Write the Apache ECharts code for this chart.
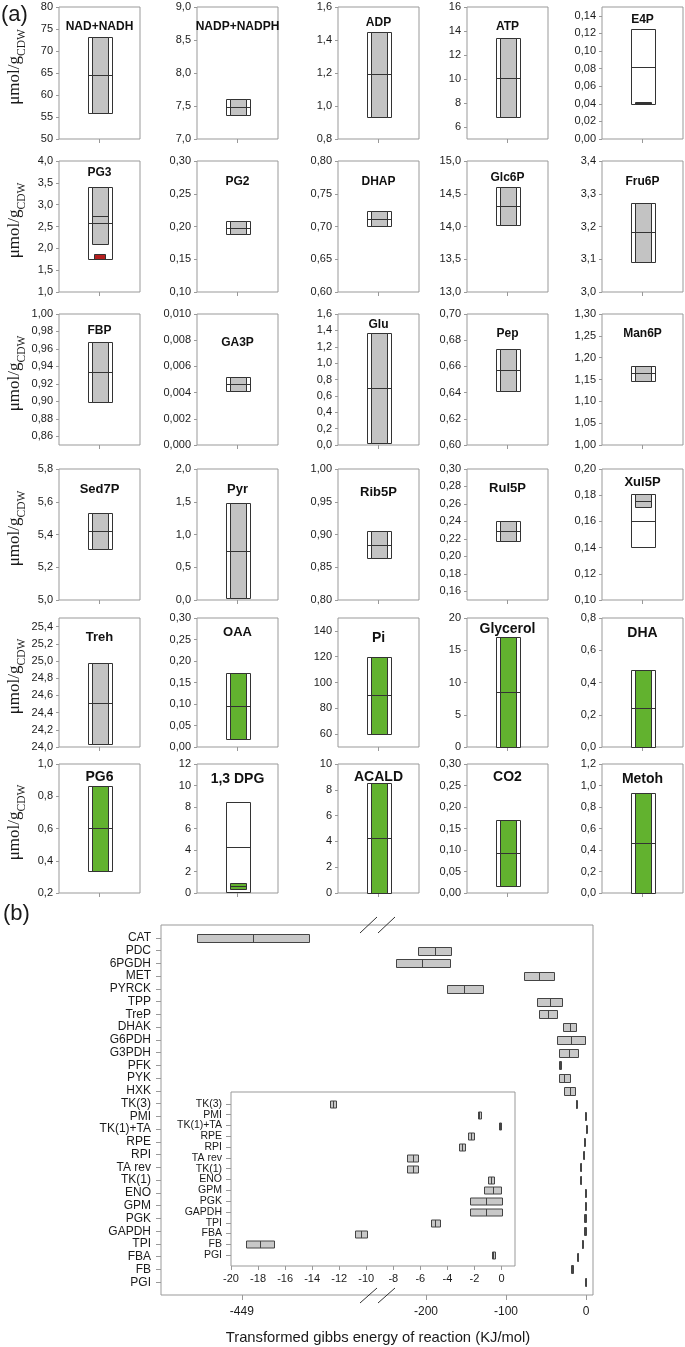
<!DOCTYPE html>
<html><head><meta charset="utf-8">
<script src="https://cdn.jsdelivr.net/npm/echarts@6/dist/echarts.min.js"></script>
<style>html,body{margin:0;padding:0;background:#fff}#c{width:685px;height:1347px}</style>
</head><body><div id="c"></div>
<script>
// ---------- (a) metabolite concentration ranges ----------
const metabolites = ['NAD+NADH','NADP+NADPH','ADP','ATP','E4P','PG3','PG2','DHAP','Glc6P','Fru6P',
  'FBP','GA3P','Glu','Pep','Man6P','Sed7P','Pyr','Rib5P','Rul5P','Xul5P',
  'Treh','OAA','Pi','Glycerol','DHA','PG6','1,3 DPG','ACALD','CO2','Metoh'];
const outerLow  = [55.8,7.36,0.935,6.8,0.040,1.75,0.188,0.701,14.03,3.093,0.899,0.00412,0.03,0.6415,1.147,5.31,0.03,0.8646,0.2177,0.1407,24.04,0.0186,60.2,0,0,0.336,0.1,0,0.017,0];
const outerHigh = [73.1,7.61,1.45,13.42,0.125,3.41,0.2084,0.7237,14.6,3.271,0.9675,0.00517,1.364,0.6733,1.182,5.53,1.476,0.905,0.2407,0.181,24.98,0.171,120,17.0,0.478,0.865,8.49,8.5,0.17,0.927];
const outerMid  = [64.5,7.49,1.194,10.1,0.0823,2.58,0.198,0.7115,14.32,3.182,0.9338,0.00466,0.693,0.6575,1.164,5.42,0.753,0.8845,0.2289,0.1605,24.51,0.0953,90.3,8.57,0.24,0.601,4.25,4.29,0.094,0.462];
const innerLow  = [55.8,7.36,0.935,6.8,0.0400,2.09,0.188,0.701,14.03,3.093,0.899,0.00412,0.03,0.6415,1.147,5.31,0.03,0.8646,0.2177,0.1708,24.04,0.0186,60.2,0,0,0.336,0.37,0,0.017,0];
const innerHigh = [73.1,7.61,1.45,13.42,0.0422,3.41,0.2084,0.7237,14.6,3.271,0.9675,0.00517,1.364,0.6733,1.182,5.53,1.476,0.905,0.2407,0.181,24.98,0.171,120,17.0,0.478,0.865,0.96,8.5,0.17,0.927];
const innerMid  = [64.5,7.49,1.194,10.1,0.0411,2.75,0.198,0.7115,14.32,3.182,0.9338,0.00466,0.693,0.6575,1.164,5.42,0.753,0.8845,0.2289,0.1756,24.51,0.0953,90.3,8.57,0.24,0.601,0.65,4.29,0.094,0.462];
const measured  = [true,true,true,true,true,true,true,true,true,true,true,true,true,true,true,true,true,true,true,true,true,false,false,false,false,false,false,false,false,false];
const extraLow  = [null,null,null,null,null,1.75,null,null,null,null,null,null,null,null,null,null,null,null,null,null,null,null,null,null,null,null,null,null,null,null];
const extraHigh = [null,null,null,null,null,1.86,null,null,null,null,null,null,null,null,null,null,null,null,null,null,null,null,null,null,null,null,null,null,null,null];
const yMin = [50,7.0,0.8,5,0,1.0,0.10,0.60,13.0,3.0,0.85,0,0,0.60,1.00,5.0,0,0.80,0.15,0.10,24.0,0,50,0,0,0.2,0,0,0,0];
const yMax = [80,9.0,1.6,16,0.15,4.0,0.30,0.80,15.0,3.4,1.00,0.010,1.6,0.70,1.30,5.8,2.0,1.00,0.30,0.20,25.5,0.30,150,20,0.8,1.0,12,10,0.30,1.2];
const yTicks = [
  [50,55,60,65,70,75,80],[7.0,7.5,8.0,8.5,9.0],[0.8,1.0,1.2,1.4,1.6],[6,8,10,12,14,16],[0,0.02,0.04,0.06,0.08,0.10,0.12,0.14],
  [1.0,1.5,2.0,2.5,3.0,3.5,4.0],[0.10,0.15,0.20,0.25,0.30],[0.60,0.65,0.70,0.75,0.80],[13.0,13.5,14.0,14.5,15.0],[3.0,3.1,3.2,3.3,3.4],
  [0.86,0.88,0.90,0.92,0.94,0.96,0.98,1.00],[0,0.002,0.004,0.006,0.008,0.010],[0,0.2,0.4,0.6,0.8,1.0,1.2,1.4,1.6],[0.60,0.62,0.64,0.66,0.68,0.70],[1.00,1.05,1.10,1.15,1.20,1.25,1.30],
  [5.0,5.2,5.4,5.6,5.8],[0,0.5,1.0,1.5,2.0],[0.80,0.85,0.90,0.95,1.00],[0.16,0.18,0.20,0.22,0.24,0.26,0.28,0.30],[0.10,0.12,0.14,0.16,0.18,0.20],
  [24.0,24.2,24.4,24.6,24.8,25.0,25.2,25.4],[0,0.05,0.10,0.15,0.20,0.25,0.30],[60,80,100,120,140],[0,5,10,15,20],[0,0.2,0.4,0.6,0.8],
  [0.2,0.4,0.6,0.8,1.0],[0,2,4,6,8,10,12],[0,2,4,6,8,10],[0,0.05,0.10,0.15,0.20,0.25,0.30],[0,0.2,0.4,0.6,0.8,1.0,1.2]
];
const tickDecimals = [0,1,1,0,2,1,2,2,1,1,2,3,1,2,2,1,1,2,2,2,1,2,0,0,1,1,0,0,2,1];

// ---------- (b) Gibbs energy of reaction ranges ----------
const reactions = ['CAT','PDC','6PGDH','MET','PYRCK','TPP','TreP','DHAK','G6PDH','G3PDH','PFK','PYK','HXK',
  'TK(3)','PMI','TK(1)+TA','RPE','RPI','TA rev','TK(1)','ENO','GPM','PGK','GAPDH','TPI','FBA','FB','PGI'];
const dgLow  = [-505,-209.6,-237.9,-77.9,-174.1,-60.8,-58.75,-28.3,-35.8,-33.3,-33.3,-33.75,-27.1,
  -12.67,-1.77,-0.18,-2.46,-3.13,-6.97,-6.97,-0.96,-1.28,-2.34,-2.34,-5.22,-10.8,-18.92,-0.72];
const dgMid  = [-434.5,-188.7,-204.6,-58.75,-152.1,-45.4,-47.9,-20,-18.3,-21.25,-31.9,-27.1,-20,
  -12.46,-1.65,-0.09,-2.24,-2.92,-6.57,-6.57,-0.74,-0.66,-1.18,-1.18,-4.9,-10.36,-17.89,-0.6];
const dgHigh = [-364.5,-167.9,-170,-40,-129.6,-30,-36.7,-11.7,-0.4,-9.2,-30.4,-20,-12.9,
  -12.25,-1.53,0,-2.02,-2.71,-6.15,-6.15,-0.52,0,0,0,-4.55,-9.94,-16.86,-0.47];
const insetFirst = 'TK(3)';
const mainLeftTicks = [-449];
const mainRightTicks = [-200,-100,0];
const insetTicks = [-20,-18,-16,-14,-12,-10,-8,-6,-4,-2,0];

// ---------- layout / style ----------
const colLeft = [59,197,338,467,602];
const rowTop = [7,161,314,469,618,764];
const rowH = [132,131,131,131,129,129];
const panelW = 81;
const titleDy = [20,20,16,20,13, 12,21,21,17,21, 17,29,11,20,20, 20,20,23,19,13, 19,14,20,11,15, 13,15,13,13,15];
const titleSize = [12,12,12,12,12, 12,12,12,12,12, 12,12,12,12,12, 13,13,13,13,13, 13,13,14,14,14, 14,14,14,14,14];
const GRAY='#c3c3c3', GREEN='#62b22f', RED='#b41e1e', EDGE='#333', FRAME='#999', TEXT='#1a1a1a';
const SANS='"Liberation Sans", Arial, sans-serif';
const SERIF='"Liberation Serif", "Times New Roman", serif';

const grids=[], xAxes=[], yAxes=[], series=[], graphics=[];
const NOLINE = {show:false, onZero:false};

function renderPanel(params, api){
  const x = api.value(0);
  const P = v => api.coord([x, v]);
  const cx = Math.round(P(api.value(1))[0]);
  const py = v => Math.round(P(v)[1]) + 0.5;
  const ow = 24, iw = 16;
  const o0 = py(api.value(1)), o1 = py(api.value(2)), om = py(api.value(3));
  const i0 = py(api.value(4)), i1 = py(api.value(5)), im = py(api.value(6));
  const fill = api.value(7) === 1 ? GRAY : GREEN;
  const L = cx - ow/2 + 0.5, IL = cx - iw/2 + 0.5;
  return {type:'group', children:[
    {type:'rect', shape:{x:L, y:o1, width:ow, height:o0-o1}, style:{fill:'#fff', stroke:EDGE, lineWidth:1}},
    {type:'rect', shape:{x:IL, y:i1, width:iw, height:Math.max(i0-i1,1)}, style:{fill:fill, stroke:EDGE, lineWidth:1}},
    {type:'line', shape:{x1:L, y1:om, x2:L+ow, y2:om}, style:{stroke:EDGE, lineWidth:1}},
    {type:'line', shape:{x1:IL, y1:im, x2:IL+iw, y2:im}, style:{stroke:EDGE, lineWidth:1}}
  ]};
}
function renderExtra(params, api){
  const x = api.value(0);
  const a = api.coord([x, api.value(1)]), b = api.coord([x, api.value(2)]);
  const w = 11;
  return {type:'rect', shape:{x:Math.round(a[0]-w/2)+0.5, y:Math.round(b[1])+0.5, width:w, height:Math.round(a[1]-b[1])},
    style:{fill:RED, stroke:EDGE, lineWidth:1}};
}

metabolites.forEach((name,i)=>{
  const r = Math.floor(i/5), c = i%5;
  grids.push({left:colLeft[c], top:rowTop[r], width:panelW, height:rowH[r], show:true, borderColor:FRAME, borderWidth:1, backgroundColor:'#fff', outerBoundsMode:'none', containLabel:false});
  xAxes.push({gridIndex:i, type:'value', min:0, max:1, position:'bottom', axisLine:NOLINE, splitLine:{show:false}, axisLabel:{show:false},
    axisTick:{show:true, customValues:[0.5], length:4, lineStyle:{color:FRAME}}});
  const dec = tickDecimals[i];
  yAxes.push({gridIndex:i, type:'value', min:yMin[i], max:yMax[i], position:'left', axisLine:NOLINE, splitLine:{show:false},
    axisTick:{show:true, customValues:yTicks[i], length:3, lineStyle:{color:FRAME}},
    axisLabel:{show:true, customValues:yTicks[i], formatter:v=>Number(v).toFixed(dec).replace('.',','), fontSize:11, color:TEXT, margin:6, fontFamily:SANS}});
  series.push({type:'custom', xAxisIndex:i, yAxisIndex:i, renderItem:renderPanel, silent:true,
    data:[[0.5, outerLow[i], outerHigh[i], outerMid[i], innerLow[i], innerHigh[i], innerMid[i], measured[i]?1:0]]});
  if (extraLow[i] != null) {
    series.push({type:'custom', xAxisIndex:i, yAxisIndex:i, renderItem:renderExtra, silent:true, z:3,
      data:[[0.5, extraLow[i], extraHigh[i]]]});
  }
  graphics.push({type:'text', z:100, x:colLeft[c]+panelW/2, y:rowTop[r]+titleDy[i],
    style:{text:name, align:'center', verticalAlign:'middle', font:'bold '+titleSize[i]+'px '+SANS, fill:'#111'}});
});

rowTop.forEach((t,r)=>{
  graphics.push({type:'text', z:100, x:17, y:t+rowH[r]/2-6, rotation:Math.PI/2,
    style:{text:'{a|μmol/g}{b|CDW}', align:'center', verticalAlign:'middle',
      rich:{a:{fontFamily:SERIF, fontSize:17, fill:TEXT, verticalAlign:'bottom', padding:[0,0,4,0]},
            b:{fontFamily:SERIF, fontSize:11.5, fill:TEXT, verticalAlign:'bottom'}}}});
});

graphics.push({type:'text', z:100, x:1, y:15, style:{text:'(a)', align:'left', verticalAlign:'middle', font:'22px '+SANS, fill:TEXT}});
graphics.push({type:'text', z:100, x:3, y:914, style:{text:'(b)', align:'left', verticalAlign:'middle', font:'22px '+SANS, fill:TEXT}});

// ----- (b) -----
function renderRange(h){
  return function(params, api){
    const y = api.value(3);
    const a = api.coord([api.value(0), y]);
    const m = api.coord([api.value(1), y]);
    const b = api.coord([api.value(2), y]);
    const yc = Math.round(a[1]);
    const x0 = Math.round(a[0]) + 0.5;
    const w = Math.max(Math.round(b[0]-a[0]), 1);
    const xm = Math.round(m[0]) + 0.5;
    return {type:'group', children:[
      {type:'rect', shape:{x:x0, y:yc-h/2+0.5, width:w, height:h}, style:{fill:'#c8c8c8', stroke:'#444', lineWidth:1}},
      {type:'line', shape:{x1:xm, y1:yc-h/2+0.5, x2:xm, y2:yc+h/2+0.5}, style:{stroke:'#444', lineWidth:1}}
    ]};
  };
}

const idx = reactions.map((_,k)=>k);
const gF = grids.length;
grids.push({left:161, top:925, width:432, height:370, show:true, borderColor:FRAME, borderWidth:1, backgroundColor:'transparent', outerBoundsMode:'none'});
xAxes.push({gridIndex:gF, type:'value', show:false, min:0, max:1, axisLine:NOLINE});
yAxes.push({gridIndex:gF, type:'value', inverse:true, position:'left', min:-1, max:reactions.length, axisLine:NOLINE, splitLine:{show:false},
  axisTick:{show:true, customValues:idx, length:5, lineStyle:{color:FRAME}},
  axisLabel:{show:true, customValues:idx, formatter:v=>reactions[Math.round(v)], fontSize:12, color:TEXT, margin:10, fontFamily:SANS}});

const LEFT_MAX = -278.75;
const gL = grids.length;
grids.push({left:161, top:925, width:217, height:370, show:false, outerBoundsMode:'none'});
xAxes.push({gridIndex:gL, type:'value', position:'bottom', min:-550, max:LEFT_MAX, axisLine:NOLINE, splitLine:{show:false},
  axisTick:{show:true, customValues:mainLeftTicks, length:5, lineStyle:{color:FRAME}},
  axisLabel:{show:true, customValues:mainLeftTicks, fontSize:12, color:TEXT, margin:11, fontFamily:SANS}});
yAxes.push({gridIndex:gL, type:'value', show:false, inverse:true, min:-1, max:reactions.length, axisLine:NOLINE});

const gR = grids.length;
grids.push({left:378, top:925, width:215, height:370, show:false, outerBoundsMode:'none'});
xAxes.push({gridIndex:gR, type:'value', position:'bottom', min:-260, max:8.75, axisLine:NOLINE, splitLine:{show:false},
  axisTick:{show:true, customValues:mainRightTicks, length:5, lineStyle:{color:FRAME}},
  axisLabel:{show:true, customValues:mainRightTicks, fontSize:12, color:TEXT, margin:11, fontFamily:SANS}});
yAxes.push({gridIndex:gR, type:'value', show:false, inverse:true, min:-1, max:reactions.length, axisLine:NOLINE});

const leftData=[], rightData=[];
reactions.forEach((n,k)=>{
  const item=[dgLow[k], dgMid[k], dgHigh[k], k];
  (dgHigh[k] < LEFT_MAX ? leftData : rightData).push(item);
});
series.push({type:'custom', xAxisIndex:gL, yAxisIndex:gL, renderItem:renderRange(8), data:leftData, silent:true});
series.push({type:'custom', xAxisIndex:gR, yAxisIndex:gR, renderItem:renderRange(8), data:rightData, silent:true});

// inset
const start = reactions.indexOf(insetFirst);
const insetNames = reactions.slice(start);
const insetIdx = insetNames.map((_,k)=>k);
const gI = grids.length;
grids.push({left:231, top:1092, width:284, height:174, show:true, borderColor:FRAME, borderWidth:1, backgroundColor:'#fff', outerBoundsMode:'none'});
xAxes.push({gridIndex:gI, type:'value', position:'bottom', min:-20, max:1, axisLine:NOLINE, splitLine:{show:false},
  axisTick:{show:true, customValues:insetTicks, length:4, lineStyle:{color:FRAME}},
  axisLabel:{show:true, customValues:insetTicks, fontSize:11, color:TEXT, margin:7, fontFamily:SANS}});
yAxes.push({gridIndex:gI, type:'value', position:'left', inverse:true, min:-1.1, max:insetNames.length, axisLine:NOLINE, splitLine:{show:false},
  axisTick:{show:true, customValues:insetIdx, length:5, lineStyle:{color:FRAME}},
  axisLabel:{show:true, customValues:insetIdx, formatter:v=>insetNames[Math.round(v)], fontSize:10.5, color:TEXT, margin:9, fontFamily:SANS}});
series.push({type:'custom', xAxisIndex:gI, yAxisIndex:gI, renderItem:renderRange(7), silent:true, z:5,
  data:insetNames.map((n,k)=>[dgLow[start+k], dgMid[start+k], dgHigh[start+k], k])});

// break marks and axis title
[[360,933,377,917],[378,933,395,917],[360,1303,377,1288],[378,1303,395,1288]].forEach(s=>{
  graphics.push({type:'line', z:100, shape:{x1:s[0],y1:s[1],x2:s[2],y2:s[3]}, style:{stroke:'#333', lineWidth:1}});
});
graphics.push({type:'text', z:100, x:378, y:1338, style:{text:'Transformed gibbs energy of reaction (KJ/mol)', align:'center', verticalAlign:'middle', font:'14.8px '+SANS, fill:TEXT}});

const chart = echarts.init(document.getElementById('c'), null, {renderer:'canvas', width:685, height:1347});
chart.setOption({
  animation:false,
  backgroundColor:'#fff',
  textStyle:{fontFamily:SANS},
  grid:grids, xAxis:xAxes, yAxis:yAxes, series:series,
  graphic:{elements:graphics}
});
</script></body></html>
